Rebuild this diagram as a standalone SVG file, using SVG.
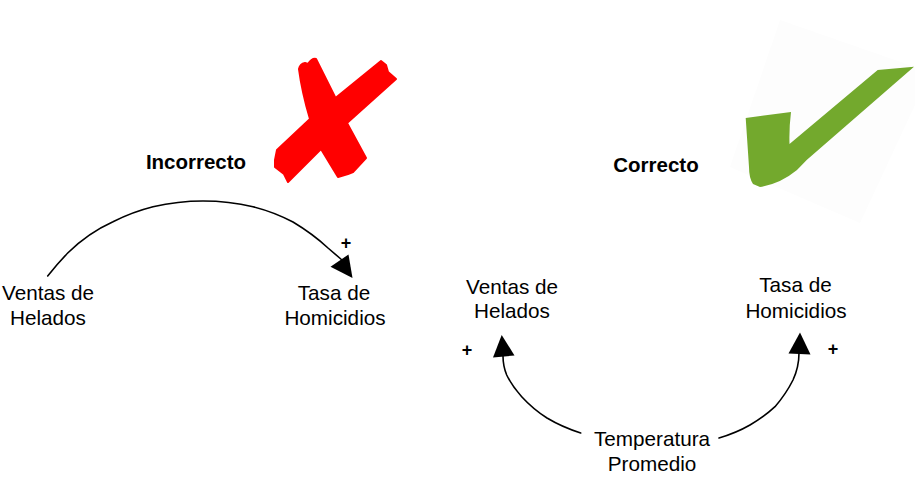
<svg xmlns="http://www.w3.org/2000/svg" width="915" height="484" viewBox="0 0 915 484">
<style>
.t{font-family:"Liberation Sans",Arial,sans-serif;font-size:20.7px;fill:#000;text-anchor:middle}
.b{font-weight:700;font-size:20.5px}
.p{font-family:"Liberation Sans",Arial,sans-serif;font-size:18px;font-weight:700;fill:#000;text-anchor:middle}
.c{fill:none;stroke:#000;stroke-width:1.6;stroke-linecap:round}
.a{fill:#000}
</style>
<rect width="915" height="484" fill="#fff"/>
<g id="cross">
<path fill="#f00" stroke="#f00" stroke-width="2" stroke-linejoin="round" d="M299 69Q300 64 305 63L308 64Q312 58 316 59L335.500 98L381 61L386 65L388 72L396 79L347 123L366 158L353 172L348 174L338 177L321 149L288 182L284 174L275 167L275 160L277 150L310 119Q302 92 299 69Z"/>
</g>
<g id="check">
<path fill="#fdfdfd" d="M780 20L915 67L915 105L860 223L730 167Z"/>
<path fill="#73a92d" d="M877.700 70L914 66.700L806.700 160L797 170Q780 184 760 187L753 184Q749 178 749 167L745.700 118L791 112Q789 128 789.500 144Z"/>
</g>
<g id="label-incorrecto"><text class="t b" x="196" y="169">Incorrecto</text></g>
<g id="label-correcto"><text class="t b" x="656" y="172">Correcto</text></g>
<g id="connectors">
<path class="c" d="M47.700 276Q58 263 68 252.700Q88 233 113 221.700Q132 212 153 206.700Q178 201 203 201Q229 201 253 206.700Q274 212 293 222Q313 234 328 248L342 260"/>
<path class="a" d="M348.500 254.500L352.500 278L330.500 266.700Z"/>
<path class="c" d="M580.700 433Q562 427 547 418Q533 409 521.700 396.700Q512 386 506.700 375Q503 366 503 356"/>
<path class="a" d="M501.700 335L514.500 355.500L493 357.500Z"/>
<path class="c" d="M719 438Q736 433 750 425Q764 417 775 406.700Q786 394 793 380Q799 367 799 353"/>
<path class="a" d="M800 332.500L810.500 354.500L788.500 353.500Z"/>
</g>
<g id="node-ventas-1"><text class="t" x="48" y="300">Ventas de</text><text class="t" x="48" y="325">Helados</text></g>
<g id="node-tasa-1"><text class="t" x="334" y="300">Tasa de</text><text class="t" x="335" y="325">Homicidios</text></g>
<g id="node-ventas-2"><text class="t" x="512" y="294">Ventas de</text><text class="t" x="512" y="318">Helados</text></g>
<g id="node-tasa-2"><text class="t" x="795.500" y="292">Tasa de</text><text class="t" x="796" y="318">Homicidios</text></g>
<g id="node-temperatura"><text class="t" x="652" y="446">Temperatura</text><text class="t" x="652" y="471">Promedio</text></g>
<g id="signs"><text class="p" x="346" y="249">+</text><text class="p" x="467" y="356">+</text><text class="p" x="833" y="355">+</text></g>
</svg>
